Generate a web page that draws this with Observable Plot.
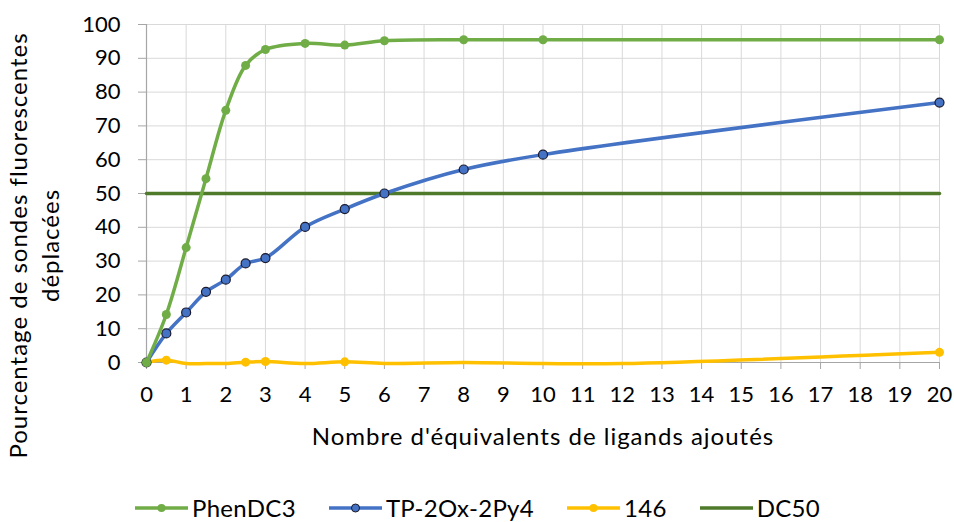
<!DOCTYPE html>
<html><head><meta charset="utf-8">
<script src="https://cdn.jsdelivr.net/npm/d3@7"></script>
<script src="https://cdn.jsdelivr.net/npm/@observablehq/plot@0.6"></script>
<style>
body{margin:0;background:#fff;font-family:Lato,"Open Sans",sans-serif;}
#chart svg{display:block;}
#legend{display:flex;justify-content:center;align-items:center;height:42px;padding-top:14px;box-sizing:border-box;font-size:24px;letter-spacing:0.3px;color:#000;line-height:26px;}
#legend .it{display:flex;align-items:center;margin:0 16px;}
#legend svg{margin-right:3px;}
</style></head><body>
<div id="chart"></div>
<div id="legend"></div>
<script>
const seriesNames = ["PhenDC3", "TP-2Ox-2Py4", "146", "DC50"];
const colors = ["#70ad47", "#4472c4", "#ffc000", "#4e7a2a"];

const phenX = [0, 0.5, 1, 1.5, 2, 2.5, 3, 4, 5, 6, 8, 10, 20];
const phenY = [0, 14.2, 34, 54.4, 74.6, 87.9, 92.6, 94.4, 93.9, 95.2, 95.5, 95.5, 95.5];

const tpX = [0, 0.5, 1, 1.5, 2, 2.5, 3, 4, 5, 6, 8, 10, 20];
const tpY = [0, 8.6, 14.8, 20.9, 24.5, 29.3, 30.9, 40.1, 45.4, 50, 57.1, 61.5, 76.9];

const y146X = [0, 0.5, 1, 1.5, 2, 2.5, 3, 4, 5, 6, 8, 10, 12, 20];
const y146Y = [0, 0.7, -0.3, -0.3, -0.3, 0.1, 0.3, -0.3, 0.2, -0.3, 0, -0.3, -0.3, 3];
const y146Markers = [0, 0.5, 2.5, 3, 5, 20];

const dcX = [0, 20];
const dcY = [50, 50];

const xTicks = d3.range(0, 21, 1);
const yTicks = d3.range(0, 101, 10);

const xLabel = "Nombre d'équivalents de ligands ajoutés";
const yLabel = "Pourcentage de sondes fluorescentes\ndéplacées";

const phen = phenX.map((x, i) => ({x, y: phenY[i]}));
const tp = tpX.map((x, i) => ({x, y: tpY[i]}));
const s146 = y146X.map((x, i) => ({x, y: y146Y[i]}));
const s146m = s146.filter(d => y146Markers.includes(d.x));
const dc = dcX.map((x, i) => ({x, y: dcY[i]}));

const font = "Lato, 'Open Sans', sans-serif";
const plot = Plot.plot({
  width: 954,
  height: 480,
  marginLeft: 146,
  marginRight: 15,
  marginTop: 24,
  marginBottom: 118,
  style: {fontFamily: font, fontSize: "22px", color: "#000", background: "#fff"},
  x: {domain: [0, 20], ticks: xTicks},
  y: {domain: [0, 100], ticks: yTicks},
  marks: [
    Plot.gridX(xTicks, {stroke: "#d9d9d9", strokeOpacity: 1, strokeWidth: 1}),
    Plot.gridY(yTicks, {stroke: "#d9d9d9", strokeOpacity: 1, strokeWidth: 1}),
    Plot.ruleY([0], {stroke: "#a6a6a6", strokeWidth: 1.2}),
    Plot.ruleX([0], {stroke: "#a6a6a6", strokeWidth: 1.2}),
    Plot.axisX(xTicks, {tickSize: 7, tickPadding: 17, stroke: "#a6a6a6", fill: "#000", fontSize: 22, label: null, tickFormat: d => String(d)}),
    Plot.axisY(yTicks, {tickSize: 8, tickPadding: 18, stroke: "#a6a6a6", fill: "#000", fontSize: 22, label: null, tickFormat: d => String(d)}),
    Plot.line(dc, {x: "x", y: "y", stroke: colors[3], strokeWidth: 3.5}),
    Plot.line(s146, {x: "x", y: "y", stroke: colors[2], strokeWidth: 3.5, curve: "catmull-rom"}),
    Plot.dot(s146m, {x: "x", y: "y", fill: colors[2], r: 4.5}),
    Plot.line(tp, {x: "x", y: "y", stroke: colors[1], strokeWidth: 3.5, curve: "catmull-rom"}),
    Plot.dot(tp, {x: "x", y: "y", fill: colors[1], stroke: "#1a1a2e", strokeWidth: 1.2, r: 4.5}),
    Plot.line(phen, {x: "x", y: "y", stroke: colors[0], strokeWidth: 3.5, curve: "catmull-rom"}),
    Plot.dot(phen, {x: "x", y: "y", fill: colors[0], r: 4.5}),
    Plot.text([xLabel], {frameAnchor: "bottom", dy: 75, fontSize: 24, fill: "#000", lineAnchor: "middle"}),
    Plot.text([yLabel], {frameAnchor: "left", textAnchor: "middle", dx: -114, dy: 52, rotate: -90, fontSize: 24, fill: "#000", lineHeight: 1.35, lineAnchor: "middle"})
  ]
});
document.getElementById("chart").appendChild(plot);
d3.select(plot).selectAll("text").filter(function() {
  const t = this.textContent;
  return t.startsWith("Nombre") || t.startsWith("Pourcentage") || t.startsWith("déplacées");
}).attr("letter-spacing", "1px");

const leg = document.getElementById("legend");
const markerStyle = [
  {fill: colors[0], stroke: "none"},
  {fill: colors[1], stroke: "#1a1a2e"},
  {fill: colors[2], stroke: "none"},
  null
];
seriesNames.forEach((n, i) => {
  const it = document.createElement("div");
  it.className = "it";
  const m = markerStyle[i];
  it.innerHTML = `<svg width="55" height="12"><line x1="1" x2="54" y1="6" y2="6" stroke="${colors[i]}" stroke-width="3.5"/>${m ? `<circle cx="27.5" cy="6" r="4" fill="${m.fill}" stroke="${m.stroke}" stroke-width="1"/>` : ""}</svg><span>${n}</span>`;
  leg.appendChild(it);
});
</script>
</body></html>
